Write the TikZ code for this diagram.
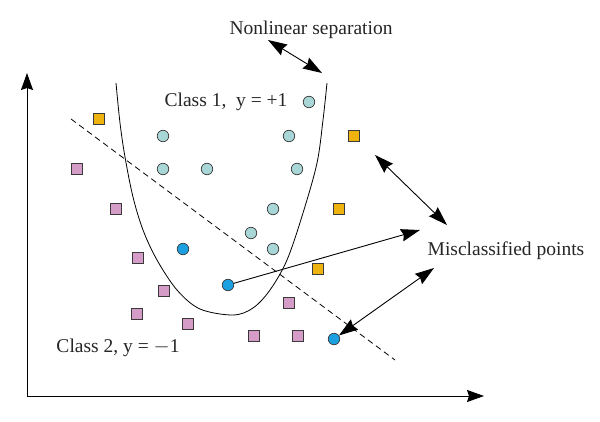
\documentclass[tikz,border=0pt]{standalone}
\usepackage{fontspec}
\setmainfont{Liberation Serif}
\usetikzlibrary{arrows.meta}
\definecolor{tealc}{HTML}{A9D6D6}
\definecolor{bluec}{HTML}{1BA1E2}
\definecolor{goldc}{HTML}{EFB310}
\definecolor{pinkc}{HTML}{D59CC8}
\definecolor{edgec}{HTML}{3A3A3A}
\tikzset{
  pt/.style={circle,draw=edgec,line width=0.7pt,minimum size=11.5pt,inner sep=0pt},
  cl1/.style={pt,fill=tealc},
  mis/.style={pt,fill=bluec},
  sq/.style={rectangle,draw=edgec,line width=0.7pt,minimum size=10.5pt,inner sep=0pt},
  gsq/.style={sq,fill=goldc},
  psq/.style={sq,fill=pinkc},
  lbl/.style={font=\fontsize{19.5}{23}\selectfont,inner sep=0pt,text=black!85},
  arr/.style={line width=0.9pt,-{Stealth[length=19pt,width=12.5pt,inset=2pt]}},
  darr/.style={line width=0.9pt,{Stealth[length=19pt,width=12.5pt,inset=2pt]}-{Stealth[length=19pt,width=12.5pt,inset=2pt]}},
  axis/.style={line width=0.9pt,-{Stealth[length=17pt,width=12pt,inset=2pt]}},
}
\begin{document}
\begin{tikzpicture}[x=1pt,y=-1pt]
\useasboundingbox (0,0) rectangle (600,422);
% axes
\coordinate (O) at (27,396);
\coordinate (ytip) at (27,73);
\coordinate (xtip) at (484,396);
\draw[axis] (O) -- (ytip);
\draw[axis] (O) -- (xtip);
% nonlinear boundary
\draw[line width=0.8pt] plot[smooth,tension=0.55] coordinates {(116,83) (120,123) (125,157) (133,197) (143,230) (157,260) (177,290) (200,309) (233,315) (253,308) (270,290) (287,260) (303,213) (317,163) (323,120) (327,83)};
% linear separator
\coordinate (d1) at (71,119);
\coordinate (d2) at (395,360);
\draw[line width=0.8pt,dash pattern=on 6pt off 4pt] (d1) -- (d2);
% class 1 points
\node[cl1] (c1) at (309,102) {};
\node[cl1] (c2) at (163,136) {};
\node[cl1] (c3) at (289,136) {};
\node[cl1] (c4) at (163,169) {};
\node[cl1] (c5) at (207,169) {};
\node[cl1] (c6) at (297,169) {};
\node[cl1] (c7) at (273,209) {};
\node[cl1] (c8) at (251,233) {};
\node[cl1] (c9) at (273,249) {};
% misclassified blue
\node[mis] (b1) at (183,249) {};
\node[mis] (b2) at (228,285) {};
\node[mis] (b3) at (334,339) {};
% gold squares
\node[gsq] (g1) at (99,119) {};
\node[gsq] (g2) at (354,136) {};
\node[gsq] (g3) at (339,209) {};
\node[gsq] (g4) at (318,269) {};
% pink squares
\node[psq] (p1) at (77,169) {};
\node[psq] (p2) at (116,209) {};
\node[psq] (p3) at (138,258) {};
\node[psq] (p4) at (164,291) {};
\node[psq] (p5) at (289,303) {};
\node[psq] (p6) at (137,314) {};
\node[psq] (p7) at (188,324) {};
\node[psq] (p8) at (254,336) {};
\node[psq] (p9) at (298,336) {};
% labels
\node[lbl] (nl) at (311,30) {Nonlinear separation};
\node[lbl] (k1) at (226,102) {Class 1,\ \ y = +1};
\node[lbl] (k2) at (118,348) {Class 2, y = $-$1};
\node[lbl] (mp) at (506,251) {Misclassified points};
% arrows
\coordinate (n1) at (268,40);
\coordinate (n2) at (322,73);
\draw[darr] (n1) -- (n2);
\coordinate (m1) at (375,155);
\coordinate (m2) at (447,225);
\draw[darr] (m1) -- (m2);
\coordinate (m3) at (420,230);
\draw[arr] (b2) -- (m3);
\coordinate (m4) at (434,268);
\draw[darr] (m4) -- (b3);
\end{tikzpicture}
\end{document}
